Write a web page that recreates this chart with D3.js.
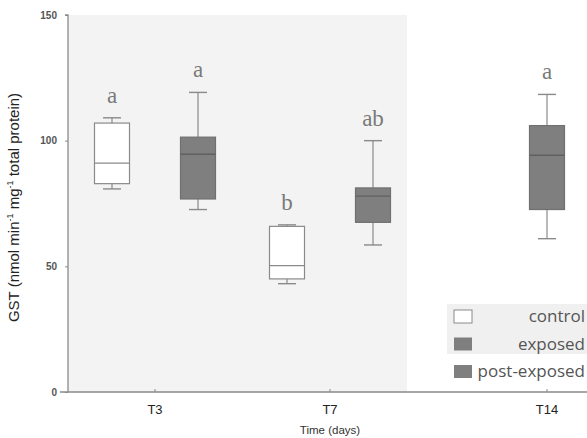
<!DOCTYPE html>
<html>
<head>
<meta charset="utf-8">
<script src="https://cdn.jsdelivr.net/npm/d3@7"></script>
<style>
  html, body { margin: 0; padding: 0; background: #fff; }
  svg { display: block; }
</style>
</head>
<body>
<svg id="chart" width="587" height="438"></svg>
<script>
// Sampling days and groups
const timepoints = ["T3", "T7", "T14"];
const groups = ["control", "exposed", "post-exposed"];

// Box statistics per group and day: [whisker low, Q1, median, Q3, whisker high]
const boxTime   = ["T3", "T3", "T7", "T7", "T14"];
const boxGroup  = ["control", "exposed", "control", "exposed", "post-exposed"];
const whiskLow  = [80.8, 72.6, 43.1, 58.5, 61.0];
const q1        = [82.9, 76.8, 45.0, 67.5, 72.6];
const median    = [91.1, 94.6, 50.3, 77.9, 94.2];
const q3        = [107.0, 101.4, 65.9, 81.2, 106.0];
const whiskHigh = [109.1, 119.2, 66.5, 100.0, 118.4];
const sigLetter = ["a", "a", "b", "ab", "a"];

const yTicks = [0, 50, 100, 150];

const svg = d3.select("#chart");
const W = 587, H = 438;
const margin = { left: 68, right: 0, top: 15, bottom: 46 };
const plotBottom = H - margin.bottom;

const y = d3.scaleLinear().domain([0, 150]).range([plotBottom, margin.top]);

// Days sit at uneven spacing along the axis
const x = d3.scaleOrdinal()
  .domain(timepoints)
  .range([155, 330, 547]);

// Group offset around each day
const groupOffset = d3.scaleOrdinal()
  .domain(groups)
  .range([-43, 43, 0]);

const boxW = 35, capW = 18;

// Shaded exposure period (T3–T7)
svg.append("rect")
  .attr("x", margin.left)
  .attr("y", margin.top)
  .attr("width", 407 - margin.left)
  .attr("height", plotBottom - margin.top)
  .attr("fill", "#f3f3f3");

// Y axis
const yAxis = d3.axisLeft(y).tickValues(yTicks).tickSize(3).tickPadding(8);
const gy = svg.append("g")
  .attr("transform", `translate(${margin.left},0)`)
  .call(yAxis);
gy.select(".domain").attr("stroke", "#8a8a8a").attr("stroke-width", 1.3)
  .attr("d", `M-3,${margin.top}H0V${plotBottom}`);
gy.selectAll(".tick line").attr("stroke", "#8a8a8a");
gy.selectAll(".tick text")
  .attr("font-family", "Liberation Sans, Arial, sans-serif")
  .attr("font-size", 10)
  .attr("font-weight", "bold")
  .attr("fill", "#555");

// X axis
const gx = svg.append("g").attr("transform", `translate(0,${plotBottom})`);
gx.append("line")
  .attr("x1", 60).attr("x2", W)
  .attr("y1", 0).attr("y2", 0)
  .attr("stroke", "#8a8a8a").attr("stroke-width", 1.3);
timepoints.forEach(t => {
  gx.append("line")
    .attr("x1", x(t)).attr("x2", x(t))
    .attr("y1", -3).attr("y2", 0)
    .attr("stroke", "#8a8a8a");
  gx.append("text")
    .attr("x", x(t)).attr("y", 22)
    .attr("text-anchor", "middle")
    .attr("font-family", "Liberation Sans, Arial, sans-serif")
    .attr("font-size", 13)
    .attr("fill", "#222")
    .text(t);
});

// Axis titles
svg.append("text")
  .attr("x", x("T7")).attr("y", 434)
  .attr("text-anchor", "middle")
  .attr("font-family", "Liberation Sans, Arial, sans-serif")
  .attr("font-size", 11.5)
  .attr("fill", "#333")
  .text("Time (days)");

const yTitle = svg.append("text")
  .attr("transform", `translate(19,${(margin.top + plotBottom) / 2 + 4}) rotate(-90)`)
  .attr("text-anchor", "middle")
  .attr("font-family", "Liberation Sans, Arial, sans-serif")
  .attr("font-size", 15)
  .attr("fill", "#222");
yTitle.append("tspan").text("GST (nmol min");
yTitle.append("tspan").attr("dy", -6).attr("font-size", 9).text("-1");
yTitle.append("tspan").attr("dy", 6).text(" mg");
yTitle.append("tspan").attr("dy", -6).attr("font-size", 9).text("-1");
yTitle.append("tspan").attr("dy", 6).text(" total protein)");

// Box plots
const fillOf = g => g === "control" ? "#ffffff" : "#7f7f7f";
const strokeOf = g => g === "control" ? "#8a8a8a" : "#707070";

boxTime.forEach((t, i) => {
  const g = boxGroup[i];
  const cx = x(t) + groupOffset(g);
  const gg = svg.append("g");
  // whiskers
  gg.append("line")
    .attr("x1", cx).attr("x2", cx)
    .attr("y1", y(whiskHigh[i])).attr("y2", y(q3[i]))
    .attr("stroke", "#8a8a8a").attr("stroke-width", 1.2);
  gg.append("line")
    .attr("x1", cx).attr("x2", cx)
    .attr("y1", y(q1[i])).attr("y2", y(whiskLow[i]))
    .attr("stroke", "#8a8a8a").attr("stroke-width", 1.2);
  [whiskHigh[i], whiskLow[i]].forEach(v => {
    gg.append("line")
      .attr("x1", cx - capW / 2).attr("x2", cx + capW / 2)
      .attr("y1", y(v)).attr("y2", y(v))
      .attr("stroke", "#8a8a8a").attr("stroke-width", 1.4);
  });
  // box
  gg.append("rect")
    .attr("x", cx - boxW / 2)
    .attr("y", y(q3[i]))
    .attr("width", boxW)
    .attr("height", y(q1[i]) - y(q3[i]))
    .attr("fill", fillOf(g))
    .attr("stroke", strokeOf(g))
    .attr("stroke-width", 1.2);
  // median
  gg.append("line")
    .attr("x1", cx - boxW / 2).attr("x2", cx + boxW / 2)
    .attr("y1", y(median[i])).attr("y2", y(median[i]))
    .attr("stroke", g === "control" ? "#8a8a8a" : "#606060")
    .attr("stroke-width", 1.3);
  // significance letter
  gg.append("text")
    .attr("x", cx).attr("y", y(whiskHigh[i]) - 15)
    .attr("text-anchor", "middle")
    .attr("font-family", "Liberation Serif, DejaVu Serif, serif")
    .attr("font-size", 23)
    .attr("fill", "#7a7a7a")
    .text(sigLetter[i]);
});

// Legend
const lg = svg.append("g");
lg.append("rect")
  .attr("x", 447).attr("y", 304)
  .attr("width", W - 447).attr("height", 50)
  .attr("fill", "#f0f0f0");
const legendY = d3.scalePoint().domain(groups).range([316, 371]);
groups.forEach(g => {
  const yy = legendY(g);
  lg.append("rect")
    .attr("x", 454).attr("y", yy - 6)
    .attr("width", 18).attr("height", 13)
    .attr("fill", fillOf(g))
    .attr("stroke", g === "control" ? "#8a8a8a" : "none");
  lg.append("text")
    .attr("x", 585).attr("y", yy + 6)
    .attr("text-anchor", "end")
    .attr("font-family", "Open Sans, Lato, sans-serif")
    .attr("font-size", 17)
    .attr("fill", "#555")
    .text(g);
});
</script>
</body>
</html>
